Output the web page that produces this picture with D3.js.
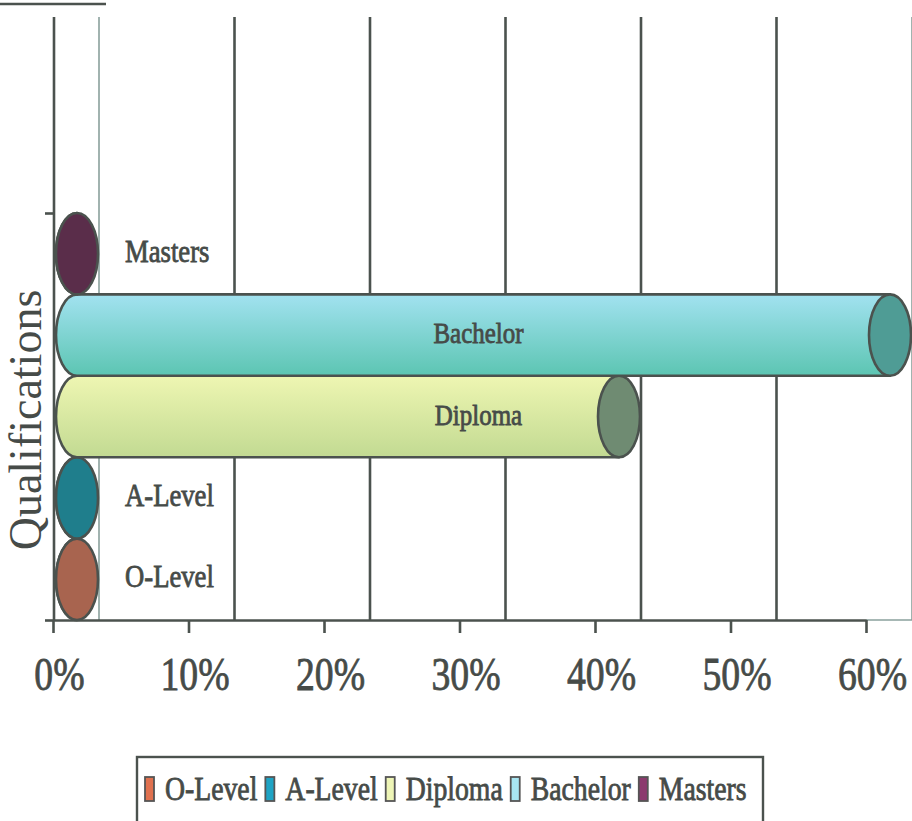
<!DOCTYPE html>
<html>
<head>
<meta charset="utf-8">
<script src="https://cdn.jsdelivr.net/npm/d3@7/dist/d3.min.js"></script>
<style>
  html, body { margin: 0; padding: 0; background: #ffffff; }
  svg { display: block; }
  text { font-family: "Liberation Serif", "Times New Roman", serif; fill: #464b48; }
  text.heavy { stroke: #464b48; stroke-width: 0.8px; }
</style>
</head>
<body>
<svg id="chart" width="912" height="821"></svg>
<script>
// Share of respondents by highest qualification
const categories = ["O-Level", "A-Level", "Diploma", "Bachelor", "Masters"];
const shares = [0, 0, 40, 60, 0];
const xTicks = [0, 10, 20, 30, 40, 50, 60];

// Series colours: legend swatch, cylinder body (top / bottom shade), end cap
const swatchColors = ["#e0714f", "#1ea3c4", "#eef5b6", "#a8e6f2", "#8c3a6e"];
const bodyTopColors = ["#b87060", "#2a8f9c", "#eef6b2", "#a2e2f0", "#6a3858"];
const bodyBottomColors = ["#9a5a48", "#1a7482", "#c2da92", "#5cc5b2", "#502742"];
const capColors = ["#a8644f", "#1f7e8c", "#6f8b72", "#4f9c95", "#5a2d4a"];

const svg = d3.select("#chart");
const ink = "#4b524e";
const depth = 46;              // horizontal offset of the back wall
const plotTop = 17, plotBottom = 620;

const x = d3.scaleLinear().domain([0, 60]).range([53, 866]);
const y = d3.scaleBand().domain(categories).range([620, 213]).paddingInner(0);

// Stray rule at the top-left
svg.append("line")
  .attr("x1", 0).attr("x2", 106).attr("y1", 4).attr("y2", 4)
  .attr("stroke", ink).attr("stroke-width", 2.5);

// Back-wall gridlines
const grid = svg.append("g");
grid.selectAll("line.grid")
  .data(xTicks)
  .join("line")
  .attr("class", "grid")
  .attr("x1", d => x(d) + depth).attr("x2", d => x(d) + depth)
  .attr("y1", plotTop).attr("y2", plotBottom)
  .attr("stroke", (d, i) => (i === 0 || i === xTicks.length - 1) ? "#8aa09c" : ink)
  .attr("stroke-width", (d, i) => (i === 0 || i === xTicks.length - 1) ? 1.6 : 2.6);

// Side wall edge / value-axis line
grid.append("line")
  .attr("x1", x(0) + 1).attr("x2", x(0) + 1)
  .attr("y1", plotTop).attr("y2", plotBottom)
  .attr("stroke", ink).attr("stroke-width", 2.6);

// Floor edge beyond the last tick
grid.append("line")
  .attr("x1", x(60)).attr("x2", x(60) + depth)
  .attr("y1", plotBottom).attr("y2", plotBottom)
  .attr("stroke", "#8aa09c").attr("stroke-width", 1.6);

// Gradients for cylinder bodies
const defs = svg.append("defs");
categories.forEach((c, i) => {
  const g = defs.append("linearGradient")
    .attr("id", "body" + i)
    .attr("x1", 0).attr("y1", 0).attr("x2", 0).attr("y2", 1);
  g.append("stop").attr("offset", "0%").attr("stop-color", bodyTopColors[i]);
  g.append("stop").attr("offset", "100%").attr("stop-color", bodyBottomColors[i]);
});

// Cylinders
const rx = 21;
const bars = svg.append("g");
const data = categories.map((c, i) => ({ c, v: shares[i], i }));
data.forEach(d => {
  const cy = y(d.c) + y.bandwidth() / 2;
  const ry = y.bandwidth() / 2;
  const cx0 = x(0) + depth / 2 + 1;
  const cx1 = x(d.v) + depth / 2 + 1;
  const top = cy - ry, bot = cy + ry;
  bars.append("path")
    .attr("d", `M${cx1},${top} L${cx0},${top} A${rx},${ry} 0 0 0 ${cx0},${bot} L${cx1},${bot} Z`)
    .attr("fill", `url(#body${d.i})`)
    .attr("stroke", ink).attr("stroke-width", 2.6)
    .attr("stroke-linejoin", "round");
  bars.append("ellipse")
    .attr("cx", cx1).attr("cy", cy).attr("rx", rx).attr("ry", ry)
    .attr("fill", capColors[d.i])
    .attr("stroke", ink).attr("stroke-width", 2.6);
});

// Compress text horizontally to a fraction of its natural width
function squeeze(sel, factor) {
  sel.each(function () {
    const w = this.getComputedTextLength();
    this.__squeezed = w * factor;
    d3.select(this).attr("textLength", w * factor).attr("lengthAdjust", "spacingAndGlyphs");
  });
}

// Category labels on the cylinders
const labels = svg.append("g");
labels.selectAll("text")
  .data(data)
  .join("text")
  .attr("class", "heavy")
  .attr("x", d => d.v > 0 ? (x(0) + x(60) + depth) / 2 - 4 : x(0) + depth / 2 + 1 + rx + 27)
  .attr("y", d => y(d.c) + y.bandwidth() / 2 + 8)
  .attr("text-anchor", d => d.v > 0 ? "middle" : "start")
  .attr("font-size", d => d.v > 0 ? 29 : 31)
  .text(d => d.c)
  .call(squeeze, 0.86);

// X axis
const xAxis = svg.append("g")
  .attr("transform", `translate(0,${plotBottom})`)
  .call(d3.axisBottom(x).tickValues(xTicks).tickSize(13).tickSizeOuter(0).tickFormat(d => d + "%"));
xAxis.select(".domain").attr("stroke", ink).attr("stroke-width", 2.6);
xAxis.selectAll(".tick line").attr("stroke", ink).attr("stroke-width", 2.6);
// Narrow tick labels: scale each label horizontally about its own anchor
xAxis.selectAll(".tick text")
  .attr("class", "heavy")
  .attr("x", 0).attr("y", 0).attr("dy", 0)
  .attr("transform", "translate(6,70) scale(0.82,1)")
  .attr("font-size", 46)
  .attr("font-family", "Liberation Serif, Times New Roman, serif")
  .attr("fill", "#464b48");

// Category axis ticks at the edges of the category band
const yAxis = svg.append("g")
  .attr("transform", `translate(${x(0) + 1},0)`)
  .call(d3.axisLeft(d3.scaleLinear().domain([0, categories.length]).range([620, 213]))
    .tickValues([0, categories.length]).tickSize(9).tickFormat(""));
yAxis.select(".domain").remove();
yAxis.selectAll(".tick line").attr("stroke", ink).attr("stroke-width", 2.6);

// Axis title
svg.append("text")
  .attr("transform", "translate(41,420) rotate(-90)")
  .attr("text-anchor", "middle")
  .attr("font-size", 46)
  .attr("fill", "#555a57")
  .text("Qualifications");

// Legend
const legend = svg.append("g");
legend.append("rect")
  .attr("x", 137).attr("y", 757).attr("width", 626).attr("height", 80)
  .attr("fill", "none").attr("stroke", ink).attr("stroke-width", 2.4);
let lx = 145;
categories.forEach((c, i) => {
  legend.append("rect")
    .attr("x", lx).attr("y", 777).attr("width", 9).attr("height", 24)
    .attr("fill", swatchColors[i]).attr("stroke", "#555").attr("stroke-width", 1.8);
  const t = legend.append("text")
    .attr("class", "heavy")
    .attr("x", lx + 20).attr("y", 800)
    .attr("font-size", 33)
    .text(c)
    .call(squeeze, 0.84);
  lx += 20 + t.node().__squeezed + 8;
});
</script>
</body>
</html>
